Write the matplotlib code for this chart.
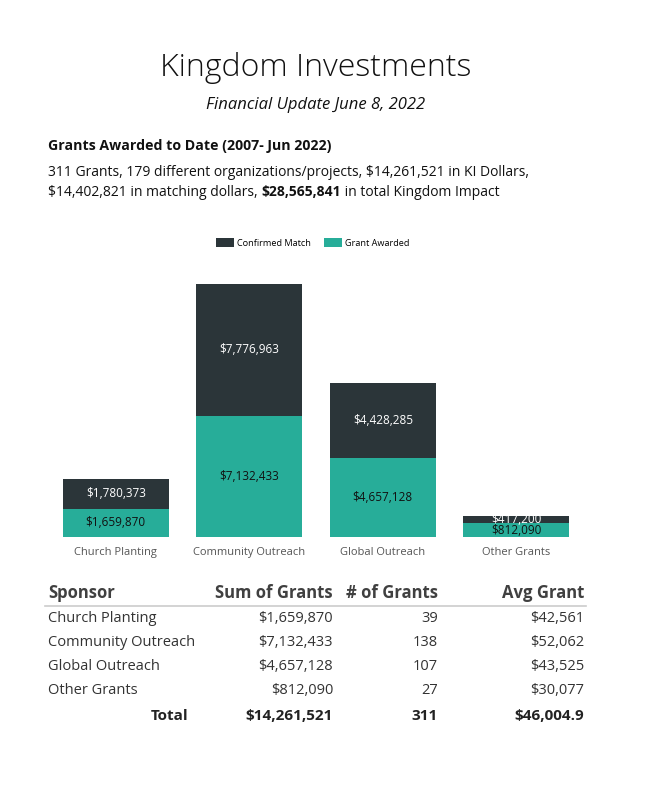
import matplotlib
matplotlib.use("Agg")
import matplotlib.pyplot as plt
from matplotlib.patches import Patch

plt.rcParams['font.family'] = ['Open Sans', 'DejaVu Sans']

categories = ["Church Planting", "Community Outreach", "Global Outreach", "Other Grants"]
grant_awarded = [1659870, 7132433, 4657128, 812090]
confirmed_match = [1780373, 7776963, 4428285, 417200]
num_grants = [39, 138, 107, 27]
avg_grant = [42561, 52062, 43525, 30077]
total_row = ["Total", "$14,261,521", "311", "$46,004.9"]
table_headers = ["Sponsor", "Sum of Grants", "# of Grants", "Avg Grant"]

DARK = "#2B3539"
TEAL = "#27AD99"

W, H = 659, 800
fig = plt.figure(figsize=(W / 100, H / 100), dpi=100)

def fy(y):
    return 1 - y / H

def fx(x):
    return x / W

# Titles
fig.text(fx(316), fy(68), "Kingdom Investments", ha="center", va="center",
         fontsize=23, fontweight="light", color="#111111")
fig.text(fx(316), fy(105), "Financial Update June 8, 2022", ha="center", va="center",
         fontsize=12, style="italic", color="#111111")
fig.text(fx(48), fy(146), "Grants Awarded to Date (2007- Jun 2022)", ha="left", va="center",
         fontsize=10.2, fontweight="bold", color="#111111")
BODY = 10
line1 = "311 Grants, 179 different organizations/projects, $14,261,521 in KI Dollars,"
fig.text(fx(48), fy(172), line1, ha="left", va="center", fontsize=BODY, color="#111111")
t1 = fig.text(fx(48), fy(192), "$14,402,821 in matching dollars, ", ha="left", va="center",
              fontsize=BODY, color="#111111")
fig.canvas.draw()
r = fig.canvas.get_renderer()
bb = t1.get_window_extent(r)
t2 = fig.text(bb.x1 / W, fy(192), "$28,565,841", ha="left", va="center",
              fontsize=BODY, fontweight="bold", color="#111111")
bb2 = t2.get_window_extent(r)
fig.text(bb2.x1 / W, fy(192), " in total Kingdom Impact", ha="left", va="center",
         fontsize=BODY, color="#111111")

# Chart
left_px, right_px = 49, 583
base_px = 537
ymax = 16e6
px_per = 253 / 14909396
height_px = ymax * px_per
ax = fig.add_axes([fx(left_px), fy(base_px), (right_px - left_px) / W, height_px / H])
x = list(range(len(categories)))
bw = 0.794
ax.bar(x, grant_awarded, width=bw, color=TEAL)
ax.bar(x, confirmed_match, width=bw, bottom=grant_awarded, color=DARK)
for i in x:
    g = grant_awarded[i]
    m = confirmed_match[i]
    ax.text(i, g / 2, f"${g:,}", ha="center", va="center", fontsize=8.5, color="#111111")
    ax.text(i, g + m / 2, f"${m:,}", ha="center", va="center", fontsize=8.5, color="white")
ax.set_xlim(-0.5, 3.5)
ax.set_ylim(0, ymax)
ax.set_xticks(x)
ax.set_xticklabels(categories, fontsize=8, color="#555555")
ax.tick_params(axis="x", length=0, pad=7)
ax.set_yticks([])
for s in ax.spines.values():
    s.set_visible(False)

handles = [Patch(facecolor=DARK, label="Confirmed Match"),
           Patch(facecolor=TEAL, label="Grant Awarded")]
fig.legend(handles=handles, loc="center", bbox_to_anchor=(fx(313), fy(243)), ncol=2,
           frameon=False, fontsize=6.6, handlelength=1.9, handleheight=1.0,
           handletextpad=0.4, columnspacing=1.4)

# Table
col_x = [48, 333, 438, 584]
col_ha = ["left", "right", "right", "right"]
HDR = "#404040"
for cx, ha, h in zip(col_x, col_ha, table_headers):
    fig.text(fx(cx), fy(593), h, ha=ha, va="center", fontsize=12, fontweight="bold", color=HDR)
fig.add_artist(plt.Line2D([fx(45), fx(586)], [fy(606), fy(606)], color="#CCCCCC", lw=1.2))
row_y = [619, 643, 667, 691]
for i, cat in enumerate(categories):
    vals = [cat, f"${grant_awarded[i]:,}", f"{num_grants[i]}", f"${avg_grant[i]:,}"]
    for cx, ha, v in zip(col_x, col_ha, vals):
        fig.text(fx(cx), fy(row_y[i]), v, ha=ha, va="center", fontsize=10.5, color="#333333")
tot_x = [188, 333, 438, 584]
for cx, v in zip(tot_x, total_row):
    fig.text(fx(cx), fy(716), v, ha="right", va="center", fontsize=11, fontweight="bold",
             color="#222222")

fig.savefig("out.png", dpi=100, facecolor="white")
